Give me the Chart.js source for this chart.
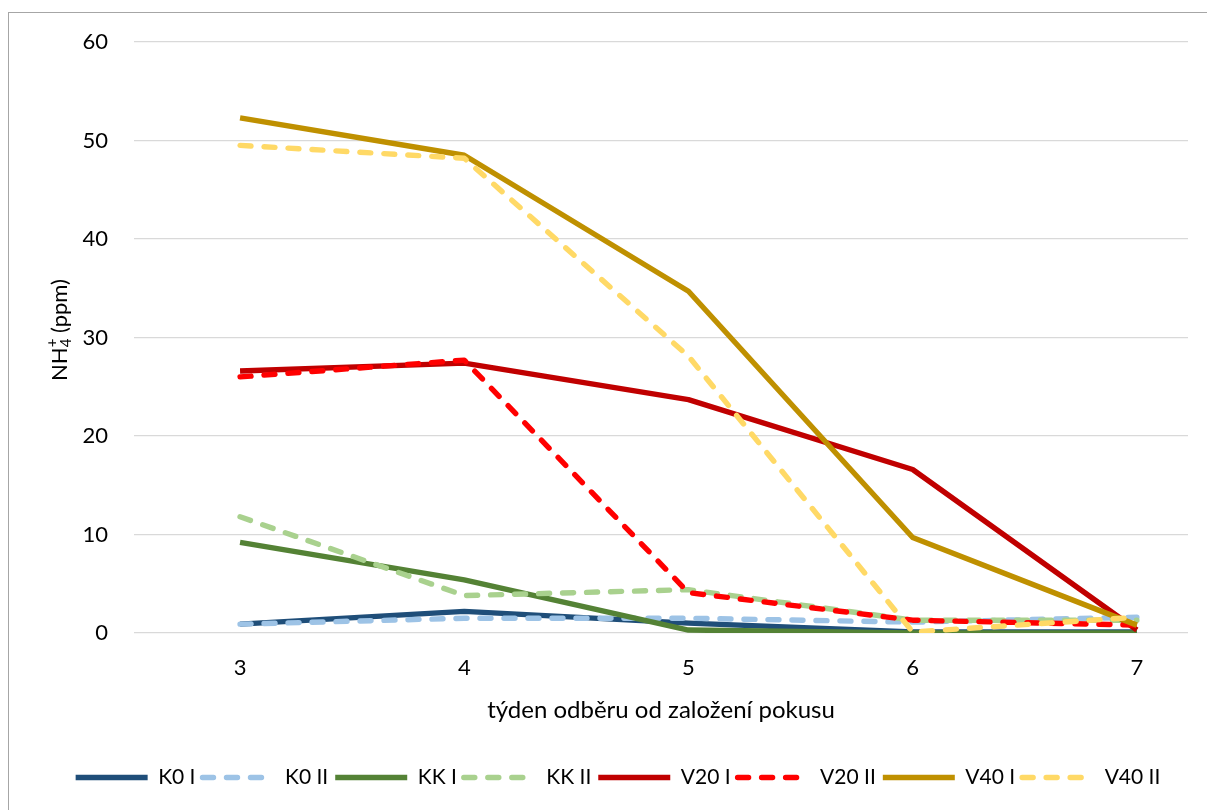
<!DOCTYPE html>
<html lang="cs">
<head>
  <meta charset="UTF-8">
  <title>NH4+ v čase</title>
  <script src="https://cdn.jsdelivr.net/npm/chart.js"></script>
  <style>
    html, body { margin: 0; padding: 0; background: #fff; }
    .wrap { width: 1207px; height: 810px; position: relative; }
  </style>
</head>
<body>
  <div class="wrap">
    <canvas id="myChart" width="1207" height="810"></canvas>
  </div>

<script>
  // týdny odběru
  const tydny = [3, 4, 5, 6, 7]
  const yTicks = [0, 10, 20, 30, 40, 50, 60]

  const nazvy = ['K0 I', 'K0 II', 'KK I', 'KK II', 'V20 I', 'V20 II', 'V40 I', 'V40 II']

  const k0_1 = [0.9, 2.2, 1.0, 0.1, 0.1]
  const k0_2 = [0.9, 1.5, 1.5, 1.1, 1.6]
  const kk_1 = [9.2, 5.4, 0.3, 0.0, 0.0]
  const kk_2 = [11.8, 3.8, 4.4, 1.3, 1.3]
  const v20_1 = [26.6, 27.4, 23.7, 16.6, 0.3]
  const v20_2 = [26.0, 27.7, 4.1, 1.3, 0.8]
  const v40_1 = [52.3, 48.5, 34.7, 9.7, 0.8]
  const v40_2 = [49.5, 48.2, 28.1, 0.1, 1.6]

  const hodnoty = [k0_1, k0_2, kk_1, kk_2, v20_1, v20_2, v40_1, v40_2]
  const barvy = ['#1F4E79', '#9DC3E6', '#548235', '#A9D18E', '#C00000', '#FF0000', '#BF9000', '#FFD966']
  const carkovane = [false, true, false, true, false, true, false, true]

  const font = 'Lato'

  const datasets = hodnoty.map(function (h, i) {
    return {
      label: nazvy[i],
      data: h.map(function (v, j) { return { x: tydny[j], y: v } }),
      borderColor: barvy[i],
      backgroundColor: barvy[i],
      borderWidth: 5.4,
      borderDash: carkovane[i] ? [11, 13] : [],
      borderCapStyle: carkovane[i] ? 'round' : 'butt',
      borderJoinStyle: 'round',
      pointRadius: 0,
      tension: 0,
      fill: false,
      order: nazvy.length - i
    }
  })

  // ramecek, posun legendy a popisek osy y (NH4+ s indexy)
  const dekorace = {
    id: 'dekorace',
    afterLayout(chart) {
      chart.legend.left += 24
      chart.legend.right += 24
    },
    beforeDraw(chart) {
      const c = chart.ctx
      c.save()
      c.strokeStyle = '#a6a6a6'
      c.lineWidth = 1
      c.strokeRect(8.5, 12.5, 1300, 900)
      c.restore()
    },
    afterDraw(chart) {
      const c = chart.ctx
      c.save()
      c.translate(60, 330)
      c.rotate(-Math.PI / 2)
      c.fillStyle = '#000'
      c.textBaseline = 'middle'
      const big = '22px ' + font
      const small = '15px ' + font
      c.font = big
      const w1 = c.measureText('NH').width
      c.font = small
      const w2 = c.measureText('4').width
      c.font = big
      const w3 = c.measureText(' (ppm)').width
      let x = -(w1 + w2 + w3) / 2
      c.textAlign = 'left'
      c.fillText('NH', x, 0)
      x += w1
      c.font = small
      c.fillText('4', x, 6)
      c.fillText('+', x, -8)
      x += w2
      c.font = big
      c.fillText(' (ppm)', x, 0)
      c.restore()
    }
  }

  const ctx = document.getElementById('myChart')

  new Chart(ctx, {
    type: 'line',
    data: { datasets: datasets },
    options: {
      responsive: false,
      animation: false,
      layout: { padding: { left: 0, right: 19, top: 42, bottom: 12 } },
      plugins: {
        tooltip: { enabled: false },
        legend: {
          position: 'bottom',
          labels: {
            sort: function (a, b) { return a.datasetIndex - b.datasetIndex },
            generateLabels: function (chart) {
              const items = Chart.defaults.plugins.legend.labels.generateLabels(chart)
              items.forEach(function (it) {
                const ds = chart.data.datasets[it.datasetIndex]
                it.lineDash = ds.borderDash
                it.lineCap = ds.borderCapStyle
                it.lineWidth = ds.borderWidth
              })
              return items
            },
            usePointStyle: true,
            pointStyle: 'line',
            pointStyleWidth: 72,
            boxHeight: 5,
            padding: 7,
            color: '#000',
            font: { family: font, size: 21 }
          }
        }
      },
      scales: {
        x: {
          type: 'linear',
          min: 2.527,
          max: 7.228,
          afterBuildTicks: function (s) { s.ticks = tydny.map(function (v) { return { value: v } }) },
          afterFit: function (s) { s.height = 127 },
          grid: { display: false },
          border: { display: false },
          ticks: {
            padding: 14,
            color: '#000',
            font: { family: font, size: 22 }
          },
          title: {
            display: true,
            text: 'týden odběru od založení pokusu',
            color: '#000',
            font: { family: font, size: 24 },
            padding: { top: 5, bottom: 35 }
          }
        },
        y: {
          min: 0,
          max: 60,
          afterBuildTicks: function (s) { s.ticks = yTicks.map(function (v) { return { value: v } }) },
          afterFit: function (s) { s.width = 134 },
          grid: { color: '#D9D9D9', lineWidth: 1.3, drawTicks: false },
          border: { display: false },
          ticks: {
            padding: 26,
            color: '#000',
            font: { family: font, size: 22 }
          }
        }
      }
    },
    plugins: [dekorace]
  })
</script>
</body>
</html>
